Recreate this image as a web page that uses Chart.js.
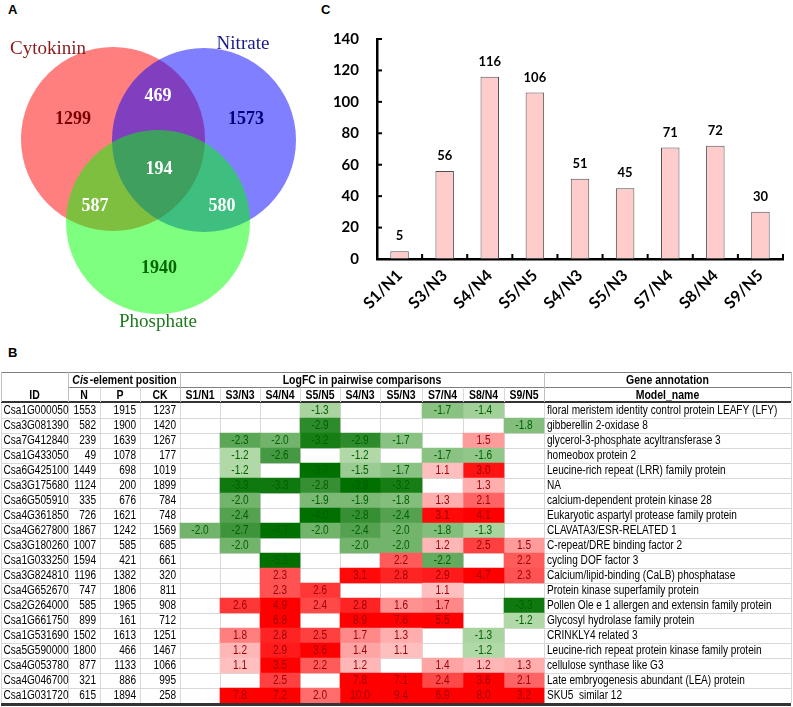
<!DOCTYPE html>
<html>
<head>
<meta charset="utf-8">
<script src="https://cdn.jsdelivr.net/npm/chart.js@4.4.1/dist/chart.umd.min.js"></script>
<style>
  html, body { margin: 0; padding: 0; background: #fff; }
  #page { position: relative; width: 793px; height: 707px; overflow: hidden; }
  .panel { position: absolute; }
  .tag { position: absolute; font: bold 13px "Liberation Sans", Arial, sans-serif; color: #000; }
</style>
</head>
<body>
<div id="page">
  <div class="tag" style="left:8px;top:2px">A</div>
  <div class="tag" style="left:321px;top:2px">C</div>
  <div class="tag" style="left:8px;top:345px">B</div>
  <canvas id="venn" class="panel" width="300" height="340" style="left:0;top:0"></canvas>
  <canvas id="bars" class="panel" width="503" height="340" style="left:290px;top:0"></canvas>
  <canvas id="table" class="panel" width="793" height="347" style="left:0;top:360px"></canvas>
</div>
<script>
// ---- panel A: overlap of DEG sets ----
const vennSets = ["Cytokinin", "Nitrate", "Phosphate"];
const vennRegions = ["C", "C+N", "N", "C+N+P", "C+P", "N+P", "P"];
const vennCounts = [1299, 469, 1573, 194, 587, 580, 1940];

// ---- panel C: genes per comparison ----
const comparisons = ["S1/N1", "S3/N3", "S4/N4", "S5/N5", "S4/N3", "S5/N3", "S7/N4", "S8/N4", "S9/N5"];
const geneCounts = [5, 56, 116, 106, 51, 45, 71, 72, 30];

// ---- panel B: table ----
const geneIds = ["Csa1G000050", "Csa3G081390", "Csa7G412840", "Csa1G433050", "Csa6G425100",
  "Csa3G175680", "Csa6G505910", "Csa4G361850", "Csa4G627800", "Csa3G180260",
  "Csa1G033250", "Csa3G824810", "Csa4G652670", "Csa2G264000", "Csa1G661750",
  "Csa1G531690", "Csa5G590000", "Csa4G053780", "Csa4G046700", "Csa1G031720"];
const posN = [1553, 582, 239, 49, 1449, 1124, 335, 726, 1867, 1007, 1594, 1196, 747, 585, 899, 1502, 1800, 877, 321, 615];
const posP = [1915, 1900, 1639, 1078, 698, 200, 676, 1621, 1242, 585, 421, 1382, 1806, 1965, 161, 1613, 466, 1133, 886, 1894];
const posCK = [1237, 1420, 1267, 177, 1019, 1899, 784, 748, 1569, 685, 661, 320, 811, 908, 712, 1251, 1467, 1066, 995, 258];
const modelNames = ["floral meristem identity control protein LEAFY (LFY)", "gibberellin 2-oxidase 8",
  "glycerol-3-phosphate acyltransferase 3", "homeobox protein 2", "Leucine-rich repeat (LRR) family protein",
  "NA", "calcium-dependent protein kinase 28", "Eukaryotic aspartyl protease family protein",
  "CLAVATA3/ESR-RELATED 1", "C-repeat/DRE binding factor 2", "cycling DOF factor 3",
  "Calcium/lipid-binding (CaLB) phosphatase", "Protein kinase superfamily protein",
  "Pollen Ole e 1 allergen and extensin family protein", "Glycosyl hydrolase family protein",
  "CRINKLY4 related 3", "Leucine-rich repeat protein kinase family protein", "cellulose synthase like G3",
  "Late embryogenesis abundant (LEA) protein", "SKU5  similar 12"];

const _ = null;
const fcS1N1 = [_, _, _, _, _, _, _, _, -2.0, _, _, _, _, _, _, _, _, _, _, _];
const fcS3N3 = [_, _, -2.3, -1.2, -1.2, -3.3, -2.0, -2.4, -2.7, -2.0, _, _, _, 2.6, _, 1.8, 1.2, 1.1, _, 7.8];
const fcS4N4 = [_, _, -2.0, -2.6, _, -3.3, _, _, -4.7, _, -5.1, 2.3, 2.3, 4.9, 6.8, 2.8, 2.9, 3.5, 2.5, 7.2];
const fcS5N5 = [-1.3, -2.9, -3.2, _, -3.7, -2.8, -1.9, -4.0, -2.0, _, _, _, 2.6, 2.4, _, 2.5, 3.6, 2.2, _, 2.0];
const fcS4N3 = [_, _, -2.9, -1.2, -1.5, -3.9, -1.9, -2.8, -2.4, -2.0, _, 3.1, _, 2.8, 8.9, 1.7, 1.4, 1.2, 7.8, 10.0];
const fcS5N3 = [_, _, -1.7, _, -1.7, -3.2, -1.8, -2.4, -2.0, -2.0, 2.2, 2.8, _, 1.6, 7.6, 1.3, 1.1, _, 7.1, 9.4];
const fcS7N4 = [-1.7, _, _, -1.7, 1.1, _, 1.3, 3.1, -1.8, 1.2, -2.2, 2.9, 1.1, 1.7, 5.5, _, _, 1.4, 2.4, 6.9];
const fcS8N4 = [-1.4, _, 1.5, -1.6, 3.0, 1.3, 2.1, 4.1, -1.3, 2.5, _, 4.7, _, _, _, -1.3, -1.2, 1.2, 3.6, 8.0];
const fcS9N5 = [_, -1.8, _, _, _, _, _, _, _, 1.5, 2.2, 2.3, _, -3.3, -1.2, _, _, 1.3, 2.1, 3.2];
const logFC = [fcS1N1, fcS3N3, fcS4N4, fcS5N5, fcS4N3, fcS5N3, fcS7N4, fcS8N4, fcS9N5];

// layout constants
const SANS = '"Liberation Sans", Arial, sans-serif';
const SERIF = '"Liberation Serif", "DejaVu Serif", serif';
const SQUEEZE = 0.84; // narrow the sans glyphs, the table was set in Calibri
const vennCircles = [[113, 139, 92], [204, 140, 92], [158, 222, 92]];
const vennFill = ["rgba(255,0,0,0.5)", "rgba(0,0,255,0.5)", "rgba(0,255,0,0.5)"];
const vennNamePos = [[48, 49], [243, 44], [158, 322]];
const vennNameColor = ["#8b1a1a", "#1a1a8b", "#1f7a1f"];
const vennCountPos = [[73, 119], [158, 96], [246, 119], [159, 169], [95, 206], [222, 206], [159, 268]];
const vennCountColor = ["#7a0000", "#fff", "#00007a", "#fff", "#fff", "#fff", "#006400"];
const colEdges = [1, 68, 100, 140, 180, 220, 260, 300, 340, 380, 422, 463, 504, 544, 791];

function mix(a, b, t) {
  return `rgb(${a.map((v, i) => Math.round(v + (b[i] - v) * t)).join(",")})`;
}

function heatColor(v) {
  if (v == null) return "rgba(0,0,0,0)";
  if (v > 0) return mix([255, 200, 200], [255, 0, 0], Math.min(1, (v - 1) / 2.2));
  return mix([192, 226, 182], [0, 112, 0], Math.min(1, (-v - 1) / 2.5));
}

// draws text horizontally squeezed so it keeps the narrow look of the original
function narrowText(ctx, text, x, y, align) {
  ctx.save();
  ctx.translate(x, y);
  ctx.scale(SQUEEZE, 1);
  ctx.textAlign = align;
  ctx.fillText(text, 0, 0);
  ctx.restore();
}

// ---------- Venn ----------
const vennLabels = {
  id: "vennLabels",
  afterDatasetsDraw(chart) {
    const { ctx, scales: { x, y } } = chart;
    ctx.save();
    ctx.textAlign = "center";
    ctx.textBaseline = "middle";
    ctx.font = `19px ${SERIF}`;
    vennSets.forEach((name, i) => {
      ctx.fillStyle = vennNameColor[i];
      ctx.fillText(name, x.getPixelForValue(vennNamePos[i][0]), y.getPixelForValue(vennNamePos[i][1]));
    });
    ctx.font = `bold 18px ${SERIF}`;
    vennCounts.forEach((n, i) => {
      ctx.fillStyle = vennCountColor[i];
      ctx.fillText(String(n), x.getPixelForValue(vennCountPos[i][0]), y.getPixelForValue(vennCountPos[i][1]));
    });
    ctx.restore();
  },
};

new Chart(document.getElementById("venn"), {
  type: "bubble",
  data: {
    datasets: [{
      data: vennCircles.map(([cx, cy, r]) => ({ x: cx, y: cy, r })),
      backgroundColor: vennFill,
      borderWidth: 0,
      clip: false,
    }],
  },
  options: {
    responsive: false,
    animation: false,
    events: [],
    layout: { padding: 0, autoPadding: false },
    scales: {
      x: { type: "linear", min: 0, max: 300, display: false },
      y: { type: "linear", min: 0, max: 340, reverse: true, display: false },
    },
    plugins: { legend: { display: false }, tooltip: { enabled: false } },
  },
  plugins: [vennLabels],
});

// ---------- bar chart ----------
const barExtras = {
  id: "barExtras",
  afterDatasetsDraw(chart) {
    const { ctx, scales: { x, y } } = chart;
    ctx.save();
    ctx.strokeStyle = "#000";
    ctx.lineWidth = 2;
    const base = y.getPixelForValue(0);
    for (let i = 1; i <= geneCounts.length; i++) {
      const px = i < geneCounts.length
        ? (x.getPixelForValue(i - 1) + x.getPixelForValue(i)) / 2
        : x.right;
      ctx.beginPath();
      ctx.moveTo(px, base);
      ctx.lineTo(px, base - 5);
      ctx.stroke();
    }
    for (let v = 0; v <= 140; v += 20) {
      const py = y.getPixelForValue(v);
      ctx.beginPath();
      ctx.moveTo(x.left, py);
      ctx.lineTo(x.left + 5, py);
      ctx.stroke();
    }
    ctx.fillStyle = "#000";
    ctx.font = 'bold 13px Lato, "Liberation Sans", sans-serif';
    ctx.textAlign = "center";
    ctx.textBaseline = "middle";
    chart.getDatasetMeta(0).data.forEach((bar, i) => {
      ctx.fillText(String(geneCounts[i]), bar.x, bar.y - 15);
    });
    ctx.restore();
  },
};

const tickFont = { family: 'Lato, "Liberation Sans", sans-serif', weight: "bold", size: 15 };

new Chart(document.getElementById("bars"), {
  type: "bar",
  data: {
    labels: comparisons,
    datasets: [{
      data: geneCounts,
      backgroundColor: "#ffcccc",
      borderColor: "#505050",
      borderWidth: 1,
      borderSkipped: false,
      barPercentage: 0.41,
      categoryPercentage: 1,
    }],
  },
  options: {
    responsive: false,
    animation: false,
    events: [],
    layout: { padding: { top: 39, right: 10, left: 0, bottom: 0 } },
    scales: {
      x: {
        grid: { display: false, drawTicks: false },
        border: { color: "#000", width: 2.5 },
        ticks: { font: { ...tickFont, size: 16 }, color: "#000", minRotation: 45, maxRotation: 45, padding: 7 },
        afterFit(s) { s.height = 81; },
      },
      y: {
        min: 0,
        max: 140,
        grid: { display: false, drawTicks: false },
        border: { color: "#000", width: 2.5 },
        ticks: { stepSize: 20, font: tickFont, color: "#000", padding: 18 },
        afterFit(s) { s.width = 87; },
      },
    },
    plugins: { legend: { display: false }, tooltip: { enabled: false } },
  },
  plugins: [barExtras],
});

// ---------- table ----------
function hline(ctx, x0, x1, yy, color, w) {
  ctx.strokeStyle = color;
  ctx.lineWidth = w;
  ctx.beginPath();
  ctx.moveTo(x0, yy);
  ctx.lineTo(x1, yy);
  ctx.stroke();
}
function vline(ctx, xx, y0, y1, color, w) {
  ctx.strokeStyle = color;
  ctx.lineWidth = w;
  ctx.beginPath();
  ctx.moveTo(xx, y0);
  ctx.lineTo(xx, y1);
  ctx.stroke();
}

const tableDraw = {
  id: "tableDraw",
  beforeDatasetsDraw(chart) {
    const { ctx, scales: { x, y }, chartArea } = chart;
    const rh = y.getPixelForValue(1) - y.getPixelForValue(0);
    ctx.save();
    for (let i = 1; i < geneIds.length; i++) {
      const py = Math.round(y.getPixelForValue(i) - rh / 2) + 0.5;
      hline(ctx, x.getPixelForValue(colEdges[0]), x.getPixelForValue(colEdges[colEdges.length - 1]), py, "#d9d9d9", 1);
    }
    colEdges.forEach((e) => {
      vline(ctx, Math.round(x.getPixelForValue(e)) + 0.5, chartArea.top, chartArea.bottom, "#d9d9d9", 1);
    });
    ctx.restore();
  },
  afterDatasetsDraw(chart) {
    const { ctx, scales: { x, y }, chartArea } = chart;
    const px = (e) => x.getPixelForValue(e);
    const colMid = (c) => (px(colEdges[c]) + px(colEdges[c + 1])) / 2;
    ctx.save();
    ctx.textBaseline = "middle";
    ctx.font = `12px ${SANS}`;
    geneIds.forEach((id, i) => {
      const py = y.getPixelForValue(i) + 0.5;
      ctx.fillStyle = "#000";
      narrowText(ctx, id, px(colEdges[0]) + 2.5, py, "left");
      narrowText(ctx, modelNames[i], px(colEdges[13]) + 3, py, "left");
      [posN, posP, posCK].forEach((arr, k) => {
        narrowText(ctx, String(arr[i]), px(colEdges[k + 2]) - 4, py, "right");
      });
      logFC.forEach((col, c) => {
        const v = col[i];
        if (v == null) return;
        ctx.fillStyle = v > 0 ? "#9c0006" : "#006100";
        narrowText(ctx, v.toFixed(1), colMid(4 + c), py, "center");
      });
    });

    // header
    const top = 12, mid = 27.5, bot = chartArea.top - 1;
    const left = px(colEdges[0]), right = px(colEdges[14]);
    hline(ctx, left, right, top + 0.5, "#7f7f7f", 1);
    hline(ctx, px(colEdges[1]), right, mid, "#7f7f7f", 1);
    hline(ctx, left, right, bot, "#333", 2);
    hline(ctx, left, right, chartArea.bottom + 1.5, "#333", 3);
    [0, 1, 4, 13, 14].forEach((c) => vline(ctx, Math.round(px(colEdges[c])) + 0.5, top, bot, "#bfbfbf", 1));
    [2, 3, 5, 6, 7, 8, 9, 10, 11, 12].forEach((c) => vline(ctx, Math.round(px(colEdges[c])) + 0.5, mid, bot, "#d9d9d9", 1));

    ctx.fillStyle = "#000";
    const r1 = (top + mid) / 2 + 1, r2 = (mid + bot) / 2 + 0.5;
    const hf = `bold 12.5px ${SANS}`, hfi = `italic bold 12.5px ${SANS}`;
    // "Cis-element position" with italic Cis
    const cisA = "Cis", cisB = "-element position";
    ctx.font = hfi;
    const wA = ctx.measureText(cisA).width * SQUEEZE;
    ctx.font = hf;
    const wB = ctx.measureText(cisB).width * SQUEEZE;
    const cx0 = (px(colEdges[1]) + px(colEdges[4])) / 2 - (wA + wB) / 2;
    ctx.font = hfi;
    narrowText(ctx, cisA, cx0, r1, "left");
    ctx.font = hf;
    narrowText(ctx, cisB, cx0 + wA + 1, r1, "left");
    narrowText(ctx, "LogFC in pairwise comparisons", (px(colEdges[4]) + px(colEdges[13])) / 2, r1, "center");
    narrowText(ctx, "Gene annotation", colMid(13), r1, "center");
    ["ID", "N", "P", "CK"].forEach((h, c) => narrowText(ctx, h, colMid(c), r2, "center"));
    comparisons.forEach((h, c) => narrowText(ctx, h, colMid(4 + c), r2, "center"));
    narrowText(ctx, "Model_name", colMid(13), r2, "center");
    ctx.restore();
  },
};

new Chart(document.getElementById("table"), {
  type: "bar",
  data: {
    labels: geneIds,
    datasets: logFC.map((col, c) => ({
      data: col.map((v) => (v == null ? null : [colEdges[4 + c], colEdges[5 + c]])),
      backgroundColor: (ctx) => heatColor(col[ctx.dataIndex]),
      borderWidth: 0,
      grouped: false,
      barPercentage: 1,
      categoryPercentage: 1,
    })),
  },
  options: {
    indexAxis: "y",
    responsive: false,
    animation: false,
    events: [],
    layout: { padding: { top: 43, bottom: 4, left: 0, right: 0 } },
    scales: {
      x: { type: "linear", min: 0, max: 793, display: false },
      y: { display: false },
    },
    plugins: { legend: { display: false }, tooltip: { enabled: false } },
  },
  plugins: [tableDraw],
});
</script>
</body>
</html>
